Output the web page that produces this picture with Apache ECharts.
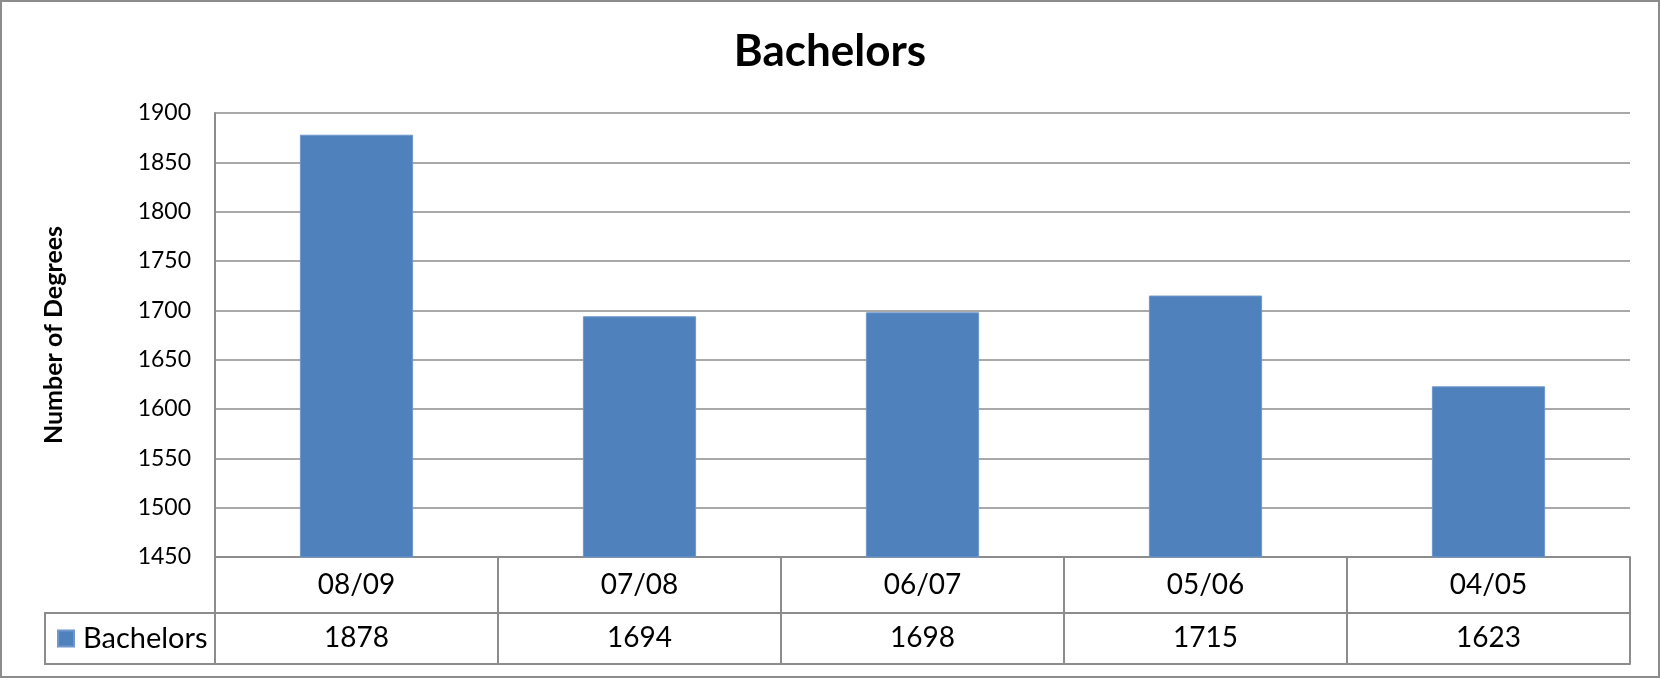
<!DOCTYPE html>
<html>
<head>
<meta charset="utf-8">
<title>Bachelors</title>
<script src="https://cdn.jsdelivr.net/npm/echarts@6/dist/echarts.min.js"></script>
<style>
  html, body { margin: 0; padding: 0; background: #ffffff; }
  #chart { width: 1660px; height: 678px; }
</style>
</head>
<body>
<div id="chart"></div>
<script>
// Academic years and degrees awarded
const years = ['08/09', '07/08', '06/07', '05/06', '04/05'];
const bachelors = [1878, 1694, 1698, 1715, 1623];
const seriesName = 'Bachelors';

// Value axis range
const yMin = 1450;
const yMax = 1900;
const yStep = 50;

// Layout
const W = 1660, H = 678;
const gridLeft = 215, gridRight = 30, gridTop = 113, gridBottom = 121;
const rowH1 = 56;   // category row of the data table
const rowH2 = 51;   // value row of the data table
const legendCellLeft = 45;
const lineGray = '#8c8c8c';
const font = 'Lato, "Open Sans", sans-serif';

const axisBottomY = H - gridBottom;
const row2Top = axisBottomY + rowH1;
const row2Bottom = row2Top + rowH2;

const chart = echarts.init(document.getElementById('chart'), null, { renderer: 'canvas' });

chart.setOption({
  backgroundColor: '#ffffff',
  animation: false,
  title: {
    text: 'Bachelors',
    left: 'center',
    top: 25,
    textStyle: { fontFamily: font, fontSize: 44, fontWeight: 'bold', color: '#000000' }
  },
  legend: {
    data: [seriesName],
    left: 57,
    top: row2Top + 11,
    padding: 0,
    icon: 'rect',
    itemWidth: 16,
    itemHeight: 16,
    textStyle: { fontFamily: font, fontSize: 29, color: '#000000', padding: [0, 0, 0, 4] }
  },
  grid: { left: gridLeft, right: gridRight, top: gridTop, bottom: gridBottom, containLabel: false },
  xAxis: [
    {
      type: 'category',
      data: years,
      position: 'bottom',
      axisLine: { show: true, lineStyle: { color: lineGray, width: 2 } },
      axisTick: { show: true, inside: false, length: rowH1 + rowH2, lineStyle: { color: lineGray, width: 2 } },
      axisLabel: { fontFamily: font, fontSize: 28, color: '#000000', margin: 14 },
      splitLine: { show: false }
    },
    {
      type: 'category',
      data: bachelors.map(String),
      position: 'bottom',
      offset: rowH1,
      axisLine: { show: true, lineStyle: { color: lineGray, width: 2 } },
      axisTick: { show: false },
      axisLabel: { fontFamily: font, fontSize: 28, color: '#000000', margin: 11 },
      splitLine: { show: false }
    },
    {
      type: 'category',
      data: years,
      position: 'bottom',
      offset: rowH1 + rowH2,
      axisLine: { show: true, lineStyle: { color: lineGray, width: 2 } },
      axisTick: { show: false },
      axisLabel: { show: false },
      splitLine: { show: false }
    }
  ],
  yAxis: {
    type: 'value',
    min: yMin,
    max: yMax,
    interval: yStep,
    name: 'Number of Degrees',
    nameLocation: 'middle',
    nameRotate: 90,
    nameGap: 149,
    nameTextStyle: { fontFamily: font, fontSize: 25, fontWeight: 'bold', color: '#000000' },
    axisLine: { show: true, lineStyle: { color: lineGray, width: 2 } },
    axisTick: { show: false },
    axisLabel: { fontFamily: font, fontSize: 23, color: '#000000', margin: 24, formatter: (v) => String(v) },
    splitLine: { show: true, lineStyle: { color: lineGray, width: 1.5 } }
  },
  series: [
    {
      name: seriesName,
      type: 'bar',
      xAxisIndex: 0,
      data: bachelors,
      barWidth: '40%',
      itemStyle: { color: '#4f81bd', borderColor: '#7098cc', borderWidth: 1 }
    }
  ],
  graphic: [
    // frame of the legend cell in the data table
    {
      type: 'polyline',
      shape: { points: [[gridLeft, row2Top], [legendCellLeft, row2Top], [legendCellLeft, row2Bottom], [gridLeft, row2Bottom]] },
      style: { stroke: lineGray, lineWidth: 2, fill: null },
      silent: true
    },
    // outer chart border
    {
      type: 'rect',
      shape: { x: 1, y: 1, width: W - 2, height: H - 2 },
      style: { stroke: lineGray, lineWidth: 2, fill: null },
      silent: true
    }
  ]
});
</script>
</body>
</html>
